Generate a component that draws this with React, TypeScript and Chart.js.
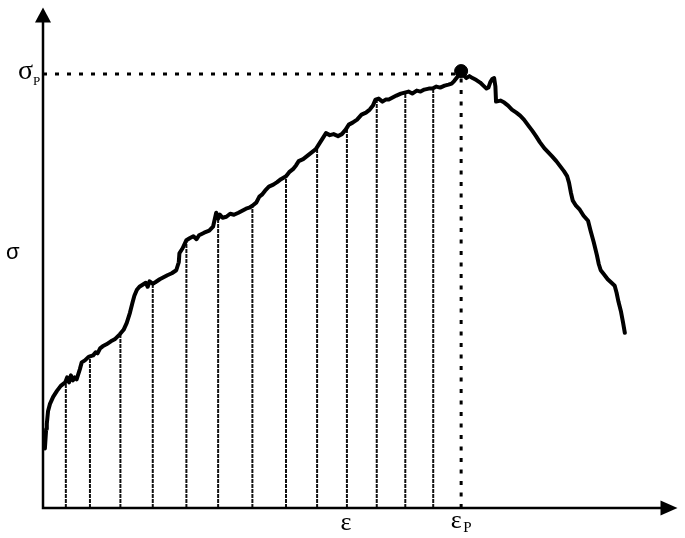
import React, { useRef, useEffect } from 'react';
import Chart from 'chart.js/auto';

// stress-strain curve (arbitrary units, axes 0..100)
const strain = [
  0.3, 0.5, 0.6, 0.8, 1.1, 1.6, 2.2, 2.8, 3.5, 3.8,
  4.1, 4.4, 4.7, 5.0, 5.3, 5.8, 6.1, 6.6, 7.1, 7.4,
  7.9, 8.3, 8.6, 9.0, 9.4, 10.0, 10.7, 11.3, 12.1, 12.7,
  13.2, 13.7, 14.1, 14.4, 14.8, 15.2, 15.7, 16.2, 16.5, 16.8,
  17.3, 17.7, 18.4, 19.0, 19.6, 20.3, 21.0, 21.4, 21.5, 22.0,
  22.6, 23.1, 23.7, 24.2, 24.6, 25.4, 26.2, 26.8, 27.3, 27.6,
  27.9, 28.3, 28.9, 29.5, 30.1, 30.8, 31.4, 32.0, 32.5, 33.0,
  33.6, 34.1, 34.5, 35.0, 35.6, 36.3, 36.9, 37.5, 38.3, 38.8,
  39.4, 39.9, 40.3, 41.0, 41.6, 42.2, 43.0, 43.6, 44.1, 44.6,
  45.2, 45.8, 46.5, 47.1, 47.7, 48.2, 48.8, 49.5, 50.2, 50.9,
  51.5, 52.0, 52.4, 52.9, 53.5, 54.0, 54.5, 55.1, 55.7, 56.4,
  57.0, 57.6, 58.2, 58.9, 59.5, 60.1, 60.8, 61.4, 62.0, 62.6,
  63.3, 63.9, 64.4, 64.8, 65.3, 65.8, 66.3, 66.7, 67.2, 67.7,
  68.3, 68.9, 69.4, 69.9, 70.2, 70.5, 70.8, 71.1, 71.3, 71.4,
  72.1, 72.7, 73.3, 73.9, 74.6, 75.2, 75.8, 76.5, 77.1, 77.7,
  78.3, 79.0, 79.6, 80.2, 80.9, 81.5, 82.1, 82.6, 82.9, 83.2,
  83.5, 84.0, 84.6, 85.2, 85.9, 86.3, 86.8, 87.3, 87.6, 87.9,
  88.4, 89.0, 89.6, 90.1, 90.4, 90.7, 91.1, 91.4, 91.7,
];

const stress = [
  11.9, 15.8, 16.8, 19.4, 20.8, 22.2, 23.4, 24.4, 25.1, 26.1,
  25.1, 26.5, 25.5, 26.1, 25.7, 27.7, 29.1, 29.5, 30.1, 30.3,
  30.5, 31.1, 30.9, 31.9, 32.3, 32.7, 33.3, 33.7, 34.7, 35.6,
  37.0, 39.0, 41.0, 42.4, 43.6, 44.2, 44.6, 45.0, 44.2, 45.3,
  44.8, 45.1, 45.7, 46.1, 46.5, 46.9, 47.5, 49.1, 50.9, 51.9,
  53.5, 53.9, 54.3, 53.7, 54.5, 55.0, 55.4, 56.2, 59.0, 57.8,
  58.6, 58.0, 58.2, 58.8, 58.6, 59.0, 59.4, 59.8, 60.0, 60.4,
  61.0, 62.2, 62.6, 63.4, 64.2, 64.6, 65.1, 65.7, 66.3, 67.1,
  67.7, 68.5, 69.3, 69.7, 70.3, 70.9, 71.7, 72.9, 73.9, 74.9,
  74.5, 74.7, 74.3, 74.7, 75.6, 76.6, 77.0, 77.6, 78.6, 79.0,
  79.6, 80.4, 81.6, 81.8, 81.2, 81.6, 81.6, 82.0, 82.4, 82.8,
  83.0, 83.2, 82.8, 83.4, 83.2, 83.6, 83.8, 83.8, 84.2, 84.0,
  84.4, 84.6, 84.8, 85.3, 86.1, 87.1, 86.5, 85.9, 86.3, 85.9,
  85.5, 85.0, 84.4, 83.8, 84.0, 85.1, 85.7, 85.9, 84.2, 81.2,
  81.4, 81.0, 80.4, 79.6, 79.0, 78.4, 77.6, 76.4, 75.4, 74.3,
  73.1, 71.9, 71.1, 70.3, 69.3, 68.3, 67.3, 66.3, 65.0, 63.0,
  61.4, 60.4, 59.6, 58.4, 57.4, 55.4, 53.1, 50.5, 48.7, 47.5,
  46.7, 45.7, 45.0, 44.4, 43.0, 41.2, 39.2, 37.2, 35.0,
];

// strains where the thin drop lines go down to the axis
const dropStrains = [3.6, 7.4, 12.2, 17.3, 22.6, 27.6, 33.0, 38.3, 43.2, 47.9, 52.6, 57.1, 61.5];

const peakStrain = 65.9;
const peakStress = 87.3;
const epsLabelStrain = 47.9;
const sigmaLabelStress = 50;

const sigmaText = 'σ';
const epsText = 'ε';
const peakSub = 'P';

function stressAt(e: number) {
  for (let i = 0; i < strain.length - 1; i++) {
    if (e >= strain[i] && e <= strain[i + 1]) {
      const t = (e - strain[i]) / (strain[i + 1] - strain[i]);
      return stress[i] + t * (stress[i + 1] - stress[i]);
    }
  }
  return 0;
}

const axesAndLabels = {
  id: 'axesAndLabels',
  afterDatasetsDraw(chart: any) {
    const { ctx, scales: { x, y } } = chart;
    const x0 = x.getPixelForValue(0);
    const y0 = y.getPixelForValue(0);
    const xEnd = x.getPixelForValue(x.max);
    const yEnd = y.getPixelForValue(y.max);
    ctx.save();
    ctx.strokeStyle = '#000';
    ctx.fillStyle = '#000';
    ctx.lineWidth = 2.5;
    ctx.beginPath();
    ctx.moveTo(x0, y0 + 1.25);
    ctx.lineTo(x0, yEnd + 12);
    ctx.moveTo(x0 - 1.25, y0);
    ctx.lineTo(xEnd - 12, y0);
    ctx.stroke();

    // arrow heads
    ctx.beginPath();
    ctx.moveTo(x0, yEnd);
    ctx.lineTo(x0 - 8, yEnd + 15);
    ctx.lineTo(x0 + 8, yEnd + 15);
    ctx.closePath();
    ctx.fill();
    ctx.beginPath();
    ctx.moveTo(xEnd, y0);
    ctx.lineTo(xEnd - 17, y0 - 7.5);
    ctx.lineTo(xEnd - 17, y0 + 7.5);
    ctx.closePath();
    ctx.fill();

    ctx.textBaseline = 'alphabetic';
    const serif = '"Liberation Serif", "DejaVu Serif", serif';

    // sigma_P
    const yP = y.getPixelForValue(peakStress - 0.6);
    ctx.font = `28px ${serif}`;
    ctx.textAlign = 'right';
    ctx.fillText(sigmaText, x0 - 10, yP + 5);
    ctx.font = `13px ${serif}`;
    ctx.textAlign = 'left';
    ctx.fillText(peakSub, x0 - 10, yP + 11);

    // sigma axis label
    ctx.font = '22px "Liberation Sans", Arial, sans-serif';
    ctx.textAlign = 'left';
    ctx.fillText(sigmaText, 6, y.getPixelForValue(sigmaLabelStress) + 1.5);

    // epsilon and epsilon_P
    ctx.font = `26px ${serif}`;
    ctx.textAlign = 'center';
    ctx.fillText(epsText, x.getPixelForValue(epsLabelStrain) - 1, y0 + 22);
    const xP = x.getPixelForValue(peakStrain);
    ctx.fillText(epsText, xP - 5, y0 + 20);
    ctx.font = `15px ${serif}`;
    ctx.textAlign = 'left';
    ctx.fillText(peakSub, xP + 2, y0 + 24);
    ctx.restore();
  },
};

const App: React.FC = () => {
  const canvasRef = useRef<HTMLCanvasElement | null>(null);

  useEffect(() => {
    if (!canvasRef.current) return;
    const curve = strain.map((e, i) => ({ x: e, y: stress[i] }));
    const drops = dropStrains.map((e) => ({
      data: [{ x: e, y: 0 }, { x: e, y: stressAt(e) }],
      borderColor: '#111',
      borderWidth: 2,
      borderDash: [4, 1],
      pointRadius: 0,
      showLine: true,
      order: 3,
    }));

    const chart = new Chart(canvasRef.current, {
      type: 'scatter',
      data: {
        datasets: [
          {
            data: curve,
            borderColor: '#000',
            borderWidth: 4,
            borderJoinStyle: 'round',
            borderCapStyle: 'round',
            pointRadius: 0,
            showLine: true,
            tension: 0,
            order: 1,
          },
          {
            data: [{ x: peakStrain, y: peakStress }],
            backgroundColor: '#000',
            borderColor: '#000',
            pointRadius: 6.5,
            order: 0,
          },
          {
            data: [{ x: 0, y: peakStress - 0.6 }, { x: peakStrain, y: peakStress - 0.6 }],
            borderColor: '#000',
            borderWidth: 3,
            borderDash: [4, 8],
            pointRadius: 0,
            showLine: true,
            order: 2,
          },
          {
            data: [{ x: peakStrain, y: 0 }, { x: peakStrain, y: peakStress - 1.5 }],
            borderColor: '#000',
            borderWidth: 3,
            borderDash: [4, 7.5],
            pointRadius: 0,
            showLine: true,
            order: 2,
          },
          ...drops,
        ] as any,
      },
      options: {
        responsive: false,
        animation: false,
        layout: {
          padding: { left: 43, right: 5, top: 5, bottom: 30 },
        },
        scales: {
          x: { type: 'linear', min: 0, max: 100, display: false },
          y: { type: 'linear', min: 0, max: 100, display: false },
        },
        plugins: {
          legend: { display: false },
          tooltip: { enabled: false },
        },
      },
      plugins: [axesAndLabels],
    });
    return () => {
      chart.destroy();
    };
  }, []);

  return (
    <div style={{ position: 'fixed', left: 0, top: 0, width: 685, height: 538, background: '#fff' }}>
      <canvas ref={canvasRef} width={685} height={538} />
    </div>
  );
};

export default App;
